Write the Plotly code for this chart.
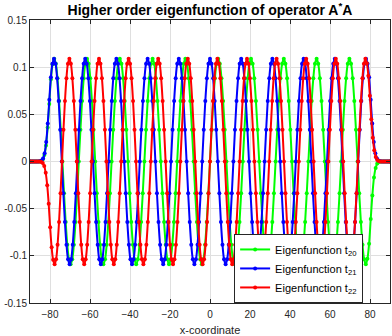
import plotly.graph_objects as go

t20_x0, t20_dx = -90.2, 0.82
t21_x0, t21_dx = -90.48, 0.78
t22_x0, t22_dx = -90.28, 0.74

t20_y = [
    0, 0, 0, 0, 0, 0, 0, 0.0005, 0.0022, 0.0068, 0.0169, 0.036, 0.061, 0.0872, 0.103,
    0.109, 0.1037, 0.0882, 0.0641, 0.0337, 0.0, -0.0337, -0.0641, -0.0882, -0.1037, -0.109, -0.1037, -0.0882, -0.0641, -0.0337, 0.0, 0.0337, 0.0641, 0.0882, 0.1037,
    0.109, 0.1037, 0.0882, 0.0641, 0.0337, 0.0, -0.0337, -0.0641, -0.0882, -0.1037, -0.109, -0.1037, -0.0882, -0.0641, -0.0337, 0.0, 0.0337, 0.0641, 0.0882, 0.1037,
    0.109, 0.1037, 0.0882, 0.0641, 0.0337, 0.0, -0.0337, -0.0641, -0.0882, -0.1037, -0.109, -0.1037, -0.0882, -0.0641, -0.0337, 0.0, 0.0337, 0.0641, 0.0882, 0.1037,
    0.109, 0.1037, 0.0882, 0.0641, 0.0337, 0.0, -0.0337, -0.0641, -0.0882, -0.1037, -0.109, -0.1037, -0.0882, -0.0641, -0.0337, 0.0, 0.0337, 0.0641, 0.0882, 0.1037,
    0.109, 0.1037, 0.0882, 0.0641, 0.0337, 0.0, -0.0337, -0.0641, -0.0882, -0.1037, -0.109, -0.1037, -0.0882, -0.0641, -0.0337, 0.0, 0.0337, 0.0641, 0.0882, 0.1037,
    0.109, 0.1037, 0.0882, 0.0641, 0.0337, 0.0, -0.0337, -0.0641, -0.0882, -0.1037, -0.109, -0.1037, -0.0882, -0.0641, -0.0337, 0.0, 0.0337, 0.0641, 0.0882, 0.1037,
    0.109, 0.1037, 0.0882, 0.0641, 0.0337, 0.0, -0.0337, -0.0641, -0.0882, -0.1037, -0.109, -0.1037, -0.0882, -0.0641, -0.0337, 0.0, 0.0337, 0.0641, 0.0882, 0.1037,
    0.109, 0.1037, 0.0882, 0.0641, 0.0337, 0.0, -0.0337, -0.0641, -0.0882, -0.1037, -0.109, -0.1037, -0.0882, -0.0641, -0.0337, 0.0, 0.0337, 0.0641, 0.0882, 0.1037,
    0.109, 0.1037, 0.0882, 0.0641, 0.0337, 0.0, -0.0337, -0.0641, -0.0882, -0.1037, -0.109, -0.1037, -0.0882, -0.0641, -0.0337, 0.0, 0.0337, 0.0641, 0.0882, 0.1037,
    0.109, 0.1037, 0.0882, 0.0641, 0.0337, 0.0, -0.0337, -0.0641, -0.0882, -0.1037, -0.109,
    -0.103, -0.0872, -0.061, -0.036, -0.0169, -0.0068, -0.0022, -0.0005, 0, 0, 0, 0, 0, 0, 0,
]

t21_y = [
    0, 0, 0, 0, 0, 0, 0, 0.0002, 0.001, 0.0033, 0.0087, 0.0207, 0.0403, 0.0654, 0.0894, 0.1036,
    0.109, 0.1037, 0.0882, 0.0641, 0.0337, 0.0, -0.0337, -0.0641, -0.0882, -0.1037, -0.109, -0.1037, -0.0882, -0.0641, -0.0337, 0.0, 0.0337, 0.0641, 0.0882, 0.1037,
    0.109, 0.1037, 0.0882, 0.0641, 0.0337, 0.0, -0.0337, -0.0641, -0.0882, -0.1037, -0.109, -0.1037, -0.0882, -0.0641, -0.0337, 0.0, 0.0337, 0.0641, 0.0882, 0.1037,
    0.109, 0.1037, 0.0882, 0.0641, 0.0337, 0.0, -0.0337, -0.0641, -0.0882, -0.1037, -0.109, -0.1037, -0.0882, -0.0641, -0.0337, 0.0, 0.0337, 0.0641, 0.0882, 0.1037,
    0.109, 0.1037, 0.0882, 0.0641, 0.0337, 0.0, -0.0337, -0.0641, -0.0882, -0.1037, -0.109, -0.1037, -0.0882, -0.0641, -0.0337, 0.0, 0.0337, 0.0641, 0.0882, 0.1037,
    0.109, 0.1037, 0.0882, 0.0641, 0.0337, 0.0, -0.0337, -0.0641, -0.0882, -0.1037, -0.109, -0.1037, -0.0882, -0.0641, -0.0337, 0.0, 0.0337, 0.0641, 0.0882, 0.1037,
    0.109, 0.1037, 0.0882, 0.0641, 0.0337, 0.0, -0.0337, -0.0641, -0.0882, -0.1037, -0.109, -0.1037, -0.0882, -0.0641, -0.0337, 0.0, 0.0337, 0.0641, 0.0882, 0.1037,
    0.109, 0.1037, 0.0882, 0.0641, 0.0337, 0.0, -0.0337, -0.0641, -0.0882, -0.1037, -0.109, -0.1037, -0.0882, -0.0641, -0.0337, 0.0, 0.0337, 0.0641, 0.0882, 0.1037,
    0.109, 0.1037, 0.0882, 0.0641, 0.0337, 0.0, -0.0337, -0.0641, -0.0882, -0.1037, -0.109, -0.1037, -0.0882, -0.0641, -0.0337, 0.0, 0.0337, 0.0641, 0.0882, 0.1037,
    0.109, 0.1037, 0.0882, 0.0641, 0.0337, 0.0, -0.0337, -0.0641, -0.0882, -0.1037, -0.109, -0.1037, -0.0882, -0.0641, -0.0337, 0.0, 0.0337, 0.0641, 0.0882, 0.1037,
    0.109, 0.1037, 0.0882, 0.0641, 0.0337, 0.0, -0.0337, -0.0641, -0.0882, -0.1037, -0.109, -0.1037, -0.0882, -0.0641, -0.0337, 0.0, 0.0337, 0.0641, 0.0882, 0.1037,
    0.109,
    0.1036, 0.0894, 0.0654, 0.0403, 0.0207, 0.0087, 0.0033, 0.001, 0.0002, 0, 0, 0, 0, 0, 0, 0,
]

t22_y = [
    0, 0, 0, 0, 0, 0, 0, 0, -0.0004, -0.0016, -0.0049, -0.012, -0.0251, -0.0447, -0.0698, -0.091, -0.1041,
    -0.109, -0.1037, -0.0882, -0.0641, -0.0337, 0.0, 0.0337, 0.0641, 0.0882, 0.1037, 0.109, 0.1037, 0.0882, 0.0641, 0.0337, 0.0, -0.0337, -0.0641, -0.0882, -0.1037,
    -0.109, -0.1037, -0.0882, -0.0641, -0.0337, 0.0, 0.0337, 0.0641, 0.0882, 0.1037, 0.109, 0.1037, 0.0882, 0.0641, 0.0337, 0.0, -0.0337, -0.0641, -0.0882, -0.1037,
    -0.109, -0.1037, -0.0882, -0.0641, -0.0337, 0.0, 0.0337, 0.0641, 0.0882, 0.1037, 0.109, 0.1037, 0.0882, 0.0641, 0.0337, 0.0, -0.0337, -0.0641, -0.0882, -0.1037,
    -0.109, -0.1037, -0.0882, -0.0641, -0.0337, 0.0, 0.0337, 0.0641, 0.0882, 0.1037, 0.109, 0.1037, 0.0882, 0.0641, 0.0337, 0.0, -0.0337, -0.0641, -0.0882, -0.1037,
    -0.109, -0.1037, -0.0882, -0.0641, -0.0337, 0.0, 0.0337, 0.0641, 0.0882, 0.1037, 0.109, 0.1037, 0.0882, 0.0641, 0.0337, 0.0, -0.0337, -0.0641, -0.0882, -0.1037,
    -0.109, -0.1037, -0.0882, -0.0641, -0.0337, 0.0, 0.0337, 0.0641, 0.0882, 0.1037, 0.109, 0.1037, 0.0882, 0.0641, 0.0337, 0.0, -0.0337, -0.0641, -0.0882, -0.1037,
    -0.109, -0.1037, -0.0882, -0.0641, -0.0337, 0.0, 0.0337, 0.0641, 0.0882, 0.1037, 0.109, 0.1037, 0.0882, 0.0641, 0.0337, 0.0, -0.0337, -0.0641, -0.0882, -0.1037,
    -0.109, -0.1037, -0.0882, -0.0641, -0.0337, 0.0, 0.0337, 0.0641, 0.0882, 0.1037, 0.109, 0.1037, 0.0882, 0.0641, 0.0337, 0.0, -0.0337, -0.0641, -0.0882, -0.1037,
    -0.109, -0.1037, -0.0882, -0.0641, -0.0337, 0.0, 0.0337, 0.0641, 0.0882, 0.1037, 0.109, 0.1037, 0.0882, 0.0641, 0.0337, 0.0, -0.0337, -0.0641, -0.0882, -0.1037,
    -0.109, -0.1037, -0.0882, -0.0641, -0.0337, 0.0, 0.0337, 0.0641, 0.0882, 0.1037, 0.109, 0.1037, 0.0882, 0.0641, 0.0337, 0.0, -0.0337, -0.0641, -0.0882, -0.1037,
    -0.109, -0.1037, -0.0882, -0.0641, -0.0337, 0.0, 0.0337, 0.0641, 0.0882, 0.1037, 0.109,
    0.1041, 0.091, 0.0698, 0.0447, 0.0251, 0.012, 0.0049, 0.0016, 0.0004, 0, 0, 0, 0, 0, 0, 0, 0,
]

x_ticks = [-80, -60, -40, -20, 0, 20, 40, 60, 80]
y_ticks = [-0.15, -0.1, -0.05, 0, 0.05, 0.1, 0.15]
y_labels = ["-0.15", "-0.1", "-0.05", "0", "0.05", "0.1", "0.15"]

fig = go.Figure()
for name, x0, dx, y, col in [("Eigenfunction t<sub>20</sub>", t20_x0, t20_dx, t20_y, "#00ff00"),
                             ("Eigenfunction t<sub>21</sub>", t21_x0, t21_dx, t21_y, "#0000ff"),
                             ("Eigenfunction t<sub>22</sub>", t22_x0, t22_dx, t22_y, "#ff0000")]:
    fig.add_trace(go.Scatter(x0=x0, dx=dx, y=y, name=name, mode="lines+markers",
                             line=dict(color=col, width=2, shape="spline"),
                             marker=dict(color=col, size=4)))

ax = dict(showline=True, linecolor="#262626", linewidth=1, mirror="ticks", ticks="inside",
          ticklen=4, tickcolor="#262626", showgrid=True, gridcolor="#dfdfdf", zeroline=False,
          automargin=False)
fig.update_xaxes(range=[-90, 90], tickvals=x_ticks, ticklabelstandoff=2,
                 title=dict(text="x-coordinate", font=dict(size=11), standoff=15), **ax)
fig.update_yaxes(range=[-0.15, 0.15], tickvals=y_ticks, ticktext=y_labels, **ax)

fig.update_layout(
    width=392, height=336, margin=dict(l=30, r=2, t=20, b=33),
    plot_bgcolor="white", paper_bgcolor="white",
    font=dict(family="Liberation Sans, Arial, sans-serif", size=10, color="#262626"),
    title=dict(text="<b>Higher order eigenfunction of operator A<sup>*</sup>A</b>",
               font=dict(size=14, color="black"), x=0.5, xref="paper",
               y=0.97, yref="container", yanchor="middle"),
    legend=dict(x=0.567, y=0.244, xanchor="left", yanchor="top", bgcolor="white",
                bordercolor="#262626", borderwidth=1, font=dict(size=11, color="black"),
                tracegroupgap=0),
)
# page body has a default 8px margin; drop it so the figure sits at the window corner
fig.write_html("out.html", config={"displayModeBar": False},
               post_script="document.body.style.margin='0';")
